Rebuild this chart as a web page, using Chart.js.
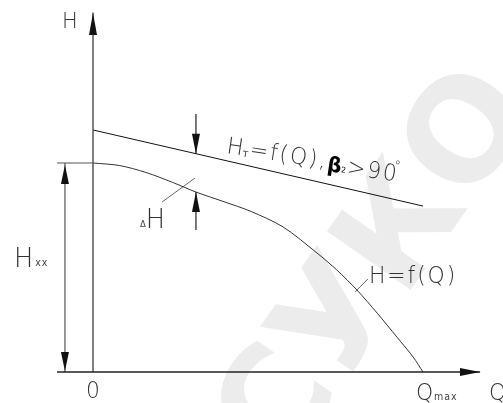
<!DOCTYPE html>
<html>
<head>
<meta charset="utf-8">
<script src="https://cdn.jsdelivr.net/npm/chart.js@4.4.0/dist/chart.umd.min.js"></script>
<style>
  body { margin: 0; background: #fff; }
  canvas { display: block; }
</style>
</head>
<body>
<canvas id="chart" width="503" height="403"></canvas>
<script>
// pump curve H = f(Q) (Qmax = 10, Hxx = 10)
const qCurve = [0, 0.8, 1.6, 2.4, 3.12, 4.0, 4.76, 5.76, 6.79, 7.39, 8.0, 8.61, 9.21, 9.70, 10];
const hCurve = [10, 9.88, 9.55, 9.08, 8.61, 8.13, 7.70, 6.94, 5.69, 4.88, 3.92, 2.82, 1.67, 0.72, 0];

// theoretical head HT = f(Q), beta2 > 90
const qTheory = [0, 10];
const hTheory = [11.58, 7.94];

const hxx = 10;
const qMax = 10;
const qDelta = 3.12;   // where the ΔH dimension is drawn
const qHxxDim = -0.85; // where the Hxx dimension is drawn

const toPts = (xs, ys) => xs.map((x, i) => ({ x: x, y: ys[i] }));

const line = (data, color, width) => ({
  data: data,
  showLine: true,
  borderColor: color,
  borderWidth: width,
  pointRadius: 0,
  fill: false,
});

// arrow heads, labels and the faint watermark
const drawingPlugin = {
  id: 'drawing',
  beforeDraw(chart) {
    const ctx = chart.ctx;
    ctx.save();
    ctx.fillStyle = '#ececec';
    ctx.font = 'bold 140px "DejaVu Sans"';
    ctx.translate(380, 270);
    ctx.rotate(-55 * Math.PI / 180);
    ctx.textAlign = 'center';
    ctx.textBaseline = 'middle';
    ctx.fillText('СУКО', 0, 0);
    ctx.restore();
  },
  afterDraw(chart) {
    const ctx = chart.ctx;
    const xs = chart.scales.x, ys = chart.scales.y;
    const px = v => xs.getPixelForValue(v);
    const py = v => ys.getPixelForValue(v);

    const arrow = (tx, ty, dx, dy, len, w) => {
      ctx.save();
      ctx.fillStyle = '#111';
      ctx.beginPath();
      ctx.moveTo(tx, ty);
      ctx.lineTo(tx - dx * len - dy * w / 2, ty - dy * len + dx * w / 2);
      ctx.lineTo(tx - dx * len + dy * w / 2, ty - dy * len - dx * w / 2);
      ctx.closePath();
      ctx.fill();
      ctx.restore();
    };

    // axis arrows
    arrow(px(0), 13, 0, -1, 22, 8);
    arrow(480, py(0), 1, 0, 20, 8);
    // Hxx dimension
    arrow(px(qHxxDim), py(hxx) + 2, 0, -1, 19, 8);
    arrow(px(qHxxDim), py(0) - 1, 0, 1, 19, 8);
    // ΔH dimension
    const hT = hTheory[0] + (hTheory[1] - hTheory[0]) * qDelta / qMax;
    arrow(px(qDelta), py(hT), 0, 1, 20, 8);
    arrow(px(qDelta), py(hCurve[4]), 0, -1, 20, 8);

    const SQ = 0.95;
    let cursor = 0;
    const seg = (s, size, dx, dy, color, weight, spacing) => {
      ctx.save();
      ctx.fillStyle = color || '#333';
      ctx.font = (weight || '200') + ' ' + size + 'px "DejaVu Sans"';
      ctx.letterSpacing = (spacing === undefined ? 2 : spacing) + 'px';
      ctx.textBaseline = 'alphabetic';
      ctx.translate(cursor + dx, dy);
      ctx.scale(SQ, 1);
      ctx.fillText(s, 0, 0);
      cursor += dx + ctx.measureText(s).width * SQ;
      ctx.restore();
    };
    const text = (x, y, parts) => {
      ctx.save();
      ctx.translate(x, y);
      cursor = 0;
      parts.forEach(p => seg.apply(null, p));
      ctx.restore();
    };

    text(62, 28, [['H', 22, 0, 0]]);
    text(86, 398, [['0', 23, 0, 0]]);
    text(416, 400, [['Q', 23, 0, 0], ['max', 10, -1, 0, '#444', '400', 1]]);
    text(489, 400, [['Q', 23, 0, 0]]);
    text(14, 267, [['H', 27, 0, 0], ['xx', 10, 0, -1, '#444', '400', 1]]);
    text(140, 227, [['Δ', 9, 0, 0, '#444', '400', 0], ['H', 27, 0, 1]]);
    text(369, 283, [['H=f(Q)', 23, 0, 0]]);

    // rotated HT label
    ctx.save();
    ctx.translate(226, 153);
    ctx.rotate(8.5 * Math.PI / 180);
    cursor = 0;
    seg('H', 23, 0, 0);
    seg('т', 11, -2, 1, '#444', '400', 1);
    seg('=f(Q),', 23, 0, 0);
    seg('β', 21, 0, 3, '#000', 'bold', 0);
    seg('2', 8, 0, 2, '#000', '400', 1);
    seg('>90', 23, 0, 3);
    seg('°', 14, -6, -8, '#333', '200', 0);
    ctx.restore();
  }
};

const hTatDelta = hTheory[0] + (hTheory[1] - hTheory[0]) * qDelta / qMax;

new Chart(document.getElementById('chart'), {
  type: 'scatter',
  data: {
    datasets: [
      // axes
      line([{ x: -1.09, y: 0 }, { x: 11.73, y: 0 }], '#222', 1.5),
      line([{ x: 0, y: 0 }, { x: 0, y: 17.2 }], '#555', 1.5),
      // characteristics
      line(toPts(qTheory, hTheory), '#111', 1),
      Object.assign(line(toPts(qCurve, hCurve), '#333', 1), { tension: 0.3 }),
      // Hxx dimension
      line([{ x: -1.09, y: hxx }, { x: 0, y: hxx }], '#555', 1.2),
      line([{ x: qHxxDim, y: 0 }, { x: qHxxDim, y: hxx }], '#555', 1.2),
      // ΔH dimension
      line([{ x: qDelta, y: 12.34 }, { x: qDelta, y: hTatDelta }], '#222', 1.2),
      line([{ x: qDelta, y: hCurve[4] }, { x: qDelta, y: 6.79 }], '#222', 1.2),
      // leaders
      line([{ x: 2.09, y: 8.13 }, { x: 3.09, y: 9.28 }], '#666', 1),
      line([{ x: 7.94, y: 3.83 }, { x: 8.33, y: 4.45 }], '#666', 1),
    ]
  },
  options: {
    responsive: false,
    devicePixelRatio: 1,
    animation: false,
    layout: { padding: 0 },
    scales: {
      x: { type: 'linear', min: -2.8182, max: 12.4242, display: false },
      y: { type: 'linear', min: -1.483, max: 17.799, display: false },
    },
    plugins: {
      legend: { display: false },
      tooltip: { enabled: false },
    },
  },
  plugins: [drawingPlugin],
});
</script>
</body>
</html>
